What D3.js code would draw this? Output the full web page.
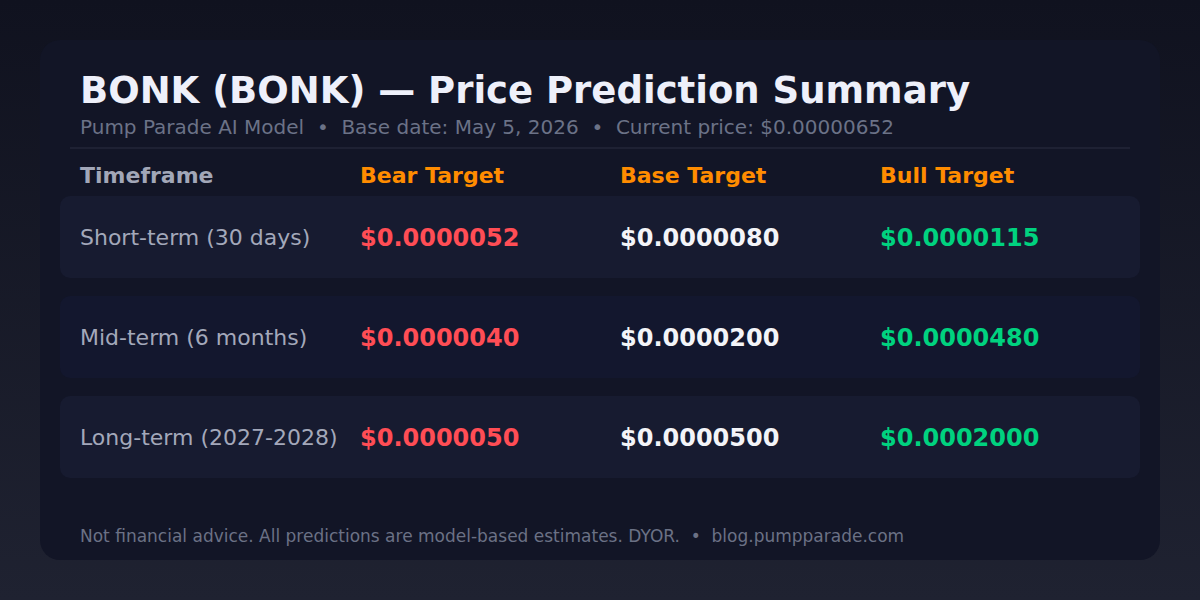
<!DOCTYPE html>
<html><head><meta charset="utf-8">
<script src="https://cdn.jsdelivr.net/npm/d3@7"></script>
<style>body{margin:0;background:#11131f}svg{display:block;font-family:"DejaVu Sans",sans-serif}</style>
</head><body><svg id="c" width="1200" height="600"></svg>
<script>
const title = "BONK (BONK) — Price Prediction Summary";
const subtitle = "Pump Parade AI Model  •  Base date: May 5, 2026  •  Current price: $0.00000652";
const headers = ["Timeframe", "Bear Target", "Base Target", "Bull Target"];
const timeframes = ["Short-term (30 days)", "Mid-term (6 months)", "Long-term (2027-2028)"];
const bear = ["$0.0000052", "$0.0000040", "$0.0000050"];
const base = ["$0.0000080", "$0.0000200", "$0.0000500"];
const bull = ["$0.0000115", "$0.0000480", "$0.0002000"];
const footer = "Not financial advice. All predictions are model-based estimates. DYOR.  •  blog.pumpparade.com";

const svg = d3.select("#c");
const defs = svg.append("defs");
const g = defs.append("linearGradient").attr("id","bg").attr("x1",0).attr("y1",0).attr("x2",0).attr("y2",1);
g.append("stop").attr("offset","0%").attr("stop-color","#10121f");
g.append("stop").attr("offset","100%").attr("stop-color","#1f2231");
svg.append("rect").attr("width",1200).attr("height",600).attr("fill","url(#bg)");
svg.append("rect").attr("x",40).attr("y",40).attr("width",1120).attr("height",520).attr("rx",20).attr("fill","#121526");
svg.append("text").attr("x",80).attr("y",103).attr("fill","#eef0fa").attr("font-size",37).attr("font-weight","bold").text(title);
svg.append("text").attr("x",80).attr("y",134).attr("fill","#6b7287").attr("font-size",20).attr("xml:space","preserve").text(subtitle);
svg.append("line").attr("x1",70).attr("x2",1130).attr("y1",148).attr("y2",148).attr("stroke","#2a2e40");

const cols = d3.scaleOrdinal().domain([0,1,2,3]).range([80,360,620,880]);
const rowY = d3.scaleBand().domain(d3.range(timeframes.length)).range([196,478]).paddingInner(0.18).paddingOuter(0);

headers.forEach((h,i)=>svg.append("text").attr("x",cols(i)).attr("y",183).attr("font-size",22).attr("font-weight","bold")
  .attr("fill", i===0?"#a2a7b8":"#ff8c00").text(h));

timeframes.forEach((t,i)=>{
  const y = rowY(i), h = rowY.bandwidth(), cy = y + h/2;
  svg.append("rect").attr("x",60).attr("y",y).attr("width",1080).attr("height",h).attr("rx",10)
    .attr("fill", i%2===0?"#171b30":"#13172e");
  svg.append("text").attr("x",cols(0)).attr("y",cy+8).attr("font-size",22).attr("fill","#a3a8ba").text(t);
  [[bear,"#ff4d55"],[base,"#f3f4f8"],[bull,"#00d27f"]].forEach(([arr,c],j)=>
    svg.append("text").attr("x",cols(j+1)).attr("y",cy+9).attr("font-size",24).attr("font-weight","bold").attr("fill",c).text(arr[i]));
});
svg.append("text").attr("x",80).attr("y",542).attr("font-size",17).attr("fill","#6b7185").attr("xml:space","preserve").text(footer);
</script></body></html>
